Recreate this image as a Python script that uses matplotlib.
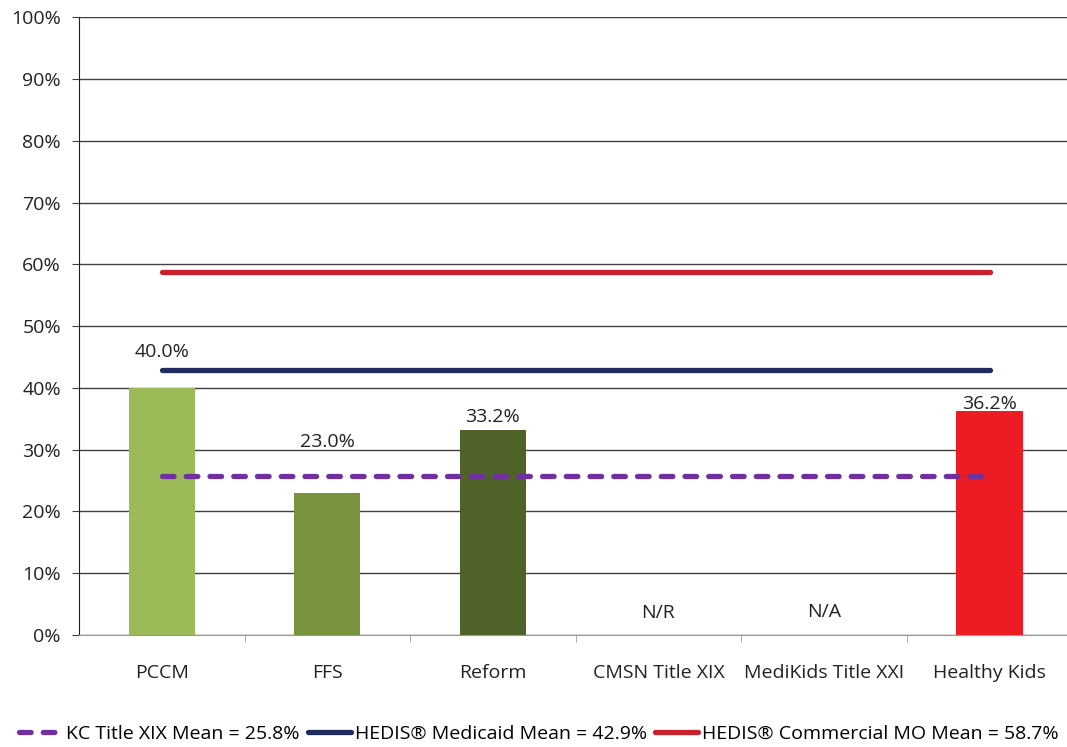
import matplotlib.pyplot as plt
import numpy as np

categories = ["PCCM", "FFS", "Reform", "CMSN Title XIX", "MediKids Title XXI", "Healthy Kids"]
bar_values = [40.0, 23.0, 33.2, None, None, 36.2]
bar_labels = ["40.0%", "23.0%", "33.2%", "N/R", "N/A", "36.2%"]
label_offsets = [5.8, 8.2, 2.1, 3.6, 3.7, 1.2]
bar_colors = ["#9BBB59", "#77933C", "#4F6228", "#FFFFFF", "#FFFFFF", "#ED1C24"]

# reference lines
kc_mean = 25.8
medicaid_mean = 42.9
commercial_mean = 58.7
legend_labels = ["KC Title XIX Mean = 25.8%",
                 "HEDIS\u00ae Medicaid Mean = 42.9%",
                 "HEDIS\u00ae Commercial MO Mean = 58.7%"]

plt.rcParams['font.family'] = ['Open Sans', 'DejaVu Sans']
fs = 14

fig = plt.figure(figsize=(10.67, 7.47), dpi=100)
ax = fig.add_axes([0.074, 0.150, 0.931, 0.827])

x = np.arange(len(categories))
heights = [v if v is not None else 0 for v in bar_values]
ax.bar(x, heights, width=0.4, color=bar_colors, zorder=2)

for i, (v, lab, off) in enumerate(zip(heights, bar_labels, label_offsets)):
    ax.text(i, v + off, lab, ha='center', va='center', fontsize=fs, color='#222222', zorder=4)

ax.plot([x[0], x[-1]], [kc_mean] * 2, color='#7030A0', lw=3.8, ls=(0, (2.2, 2.3)),
        solid_capstyle='round', dash_capstyle='round', zorder=3, label=legend_labels[0])
ax.plot([x[0], x[-1]], [medicaid_mean] * 2, color='#1F2A60', lw=3.8,
        solid_capstyle='round', zorder=3, label=legend_labels[1])
ax.plot([x[0], x[-1]], [commercial_mean] * 2, color='#C8202C', lw=3.8,
        solid_capstyle='round', zorder=3, label=legend_labels[2])

ax.set_xlim(-0.5, len(categories) - 0.5)
ax.set_ylim(0, 100)
ax.set_yticks(np.arange(0, 101, 10))
ax.set_yticklabels([f"{t}%" for t in range(0, 101, 10)], fontsize=fs, color='#222222')
ax.yaxis.grid(True, color='#404040', lw=1)
ax.set_axisbelow(True)

ax.set_xticks(x)
ax.set_xticklabels(categories, fontsize=fs, color='#222222')
ax.tick_params(axis='x', length=0, pad=21)
ax.set_xticks(np.arange(-0.5, len(categories) - 0.5, 1)[1:], minor=True)
ax.tick_params(axis='x', which='minor', length=5, color='#999999')
ax.tick_params(axis='y', length=5, pad=8, color='#404040')

for s in ['top', 'right']:
    ax.spines[s].set_visible(False)
ax.spines['left'].set_color('#202020')
ax.spines['bottom'].set_color('#999999')

fig.legend(loc='lower center', bbox_to_anchor=(0.505, -0.005), ncol=3, frameon=False,
           fontsize=fs, handlelength=2.2, handletextpad=0.2, columnspacing=0.45,
           borderaxespad=0.0)

fig.savefig('out.png', dpi=100)
